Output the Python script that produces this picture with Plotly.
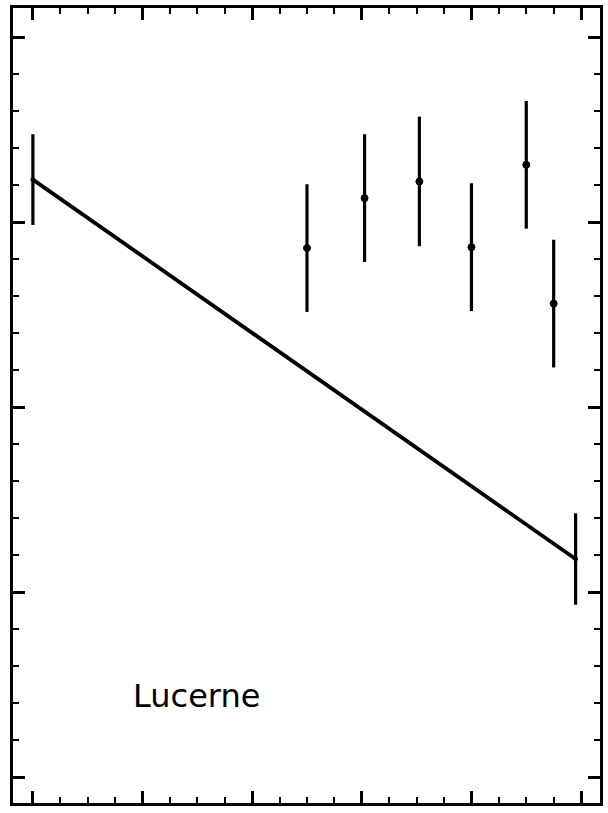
import plotly.graph_objects as go

# Measured points with symmetric uncertainties
x_pts = [0, 50, 60.5, 70.5, 80, 90, 95, 99]
y_pts = [32.3, 28.6, 31.3, 32.2, 28.65, 33.1, 25.6, 11.8]
y_err = [2.45, 3.45, 3.45, 3.5, 3.45, 3.45, 3.45, 2.47]

# Straight trend line between the end points
line_x = [0, 99]
line_y = [32.3, 11.8]

label_text = "Lucerne"

fig = go.Figure()

fig.add_trace(go.Scatter(
    x=line_x, y=line_y, mode="lines",
    line=dict(color="black", width=3.8),
    showlegend=False, hoverinfo="skip",
))

fig.add_trace(go.Scatter(
    x=x_pts, y=y_pts, mode="markers",
    marker=dict(color="black", size=[4, 7, 7, 7, 7, 7, 7, 4],
                line=dict(color="black", width=1), opacity=1),
    error_y=dict(type="data", array=y_err, visible=True,
                 color="black", thickness=3.2, width=0),
    showlegend=False,
))

fig.add_annotation(
    x=29.9, y=4.4, xref="x", yref="y",
    text=label_text, showarrow=False,
    font=dict(family="DejaVu Sans", size=32, color="black"),
    xanchor="center", yanchor="middle",
)

axis_common = dict(
    showline=True, mirror="ticks", linewidth=3, linecolor="black",
    ticks="inside", tickcolor="black", tickwidth=2.5, ticklen=12,
    showticklabels=False, showgrid=False, zeroline=False,
)

fig.update_xaxes(
    range=[-3.63, 103.45], tick0=0, dtick=20,
    minor=dict(ticks="inside", ticklen=6, tickwidth=2, tickcolor="black",
               dtick=5, showgrid=False),
    **axis_common,
)
fig.update_yaxes(
    range=[-1.38, 41.57], tick0=0, dtick=10,
    minor=dict(ticks="inside", ticklen=6, tickwidth=2, tickcolor="black",
               dtick=2, showgrid=False),
    **axis_common,
)

fig.update_layout(
    width=608, height=813, autosize=False,
    margin=dict(l=13, r=5, t=6, b=10),
    paper_bgcolor="white", plot_bgcolor="white",
)

fig.write_html("out.html")
